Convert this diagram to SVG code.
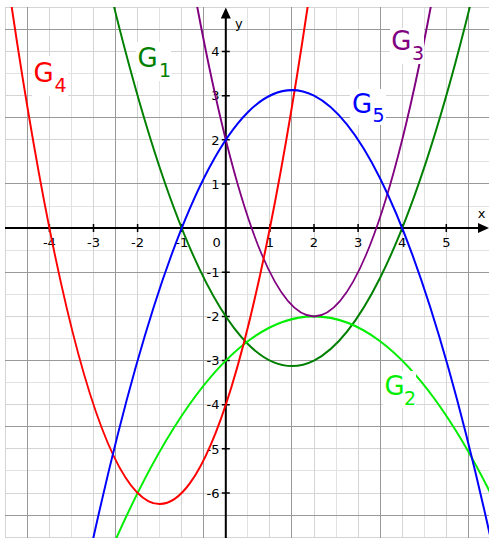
<svg xmlns="http://www.w3.org/2000/svg" width="489" height="538" viewBox="0 0 489 538">
<defs>
<style>
.gl{stroke:#d4d4d4;stroke-width:1;fill:none}
.gh{stroke:#e2e2e2;stroke-width:1;fill:none}
.gd{stroke:#999;stroke-width:1;fill:none}
.ax{stroke:#000;stroke-width:2;fill:none}
.tk{stroke:#000;stroke-width:1.5;fill:none}
.tl{font-family:"DejaVu Sans",Verdana,sans-serif;font-size:13px;fill:#000}
.cv{fill:none;stroke-width:2;vector-effect:non-scaling-stroke}
.lb{font-family:"DejaVu Sans",Verdana,sans-serif;font-size:26px}
.sb{font-size:19px}
.bg{fill:#fff}
</style>
<clipPath id="plot"><rect x="5" y="7" width="484" height="531"/></clipPath>
</defs>
<rect width="489" height="538" fill="#fff"/>
<g id="grid" shape-rendering="crispEdges">
<g class="gh">
<path d="M71.45 7V538M159.65 7V538M247.85 7V538M336.05 7V538M424.25 7V538"/>
<path d="M5 73.6H489M5 161.9H489M5 206H489M5 250.2H489M5 294.3H489M5 338.5H489M5 382.6H489M5 470.9H489"/>
</g>
<g class="gl">
<path d="M5.3 7V538M49.4 7V538M93.5 7V538M137.6 7V538M181.7 7V538M269.9 7V538M314 7V538M358.1 7V538M402.2 7V538M446.3 7V538"/>
<path d="M5 7.35H489M5 51.5H489M5 95.65H489M5 139.8H489M5 316.4H489M5 404.7H489M5 448.85H489M5 493H489M5 537.15H489"/>
</g>
<g class="gd">
<path d="M27.35 7V538M115.55 7V538M203.75 7V538M291.95 7V538M380.15 7V538M468.35 7V538"/>
<path d="M5 29.4H489M5 117.7H489M5 183.95H489M5 272.25H489M5 360.55H489M5 426.75H489M5 515.05H489"/>
</g>
</g>
<g id="axes">
<path class="ax" d="M5 228.1H480M225.8 538V17"/>
<polygon points="489,228.1 478,223.1 478,233.1" fill="#000"/>
<polygon points="225.8,7.5 220.8,18.5 230.8,18.5" fill="#000"/>
<path class="tk" d="M49.4 224.1v8M93.5 224.1v8M137.6 224.1v8M181.7 224.1v8M269.9 224.1v8M314 224.1v8M358.1 224.1v8M402.2 224.1v8M446.3 224.1v8"/>
<path class="tk" d="M221.8 51.5h8M221.8 95.65h8M221.8 139.8h8M221.8 183.95h8M221.8 272.25h8M221.8 316.4h8M221.8 360.55h8M221.8 404.7h8M221.8 448.85h8M221.8 493h8"/>
<g class="tl" text-anchor="middle">
<text x="49.4" y="246.5">-4</text>
<text x="93.5" y="246.5">-3</text>
<text x="137.6" y="246.5">-2</text>
<text x="181.7" y="246.5">-1</text>
<text x="216.7" y="246.5">0</text>
<text x="269.9" y="246.5">1</text>
<text x="314" y="246.5">2</text>
<text x="358.1" y="246.5">3</text>
<text x="402.2" y="246.5">4</text>
<text x="446.3" y="246.5">5</text>
</g>
<g class="tl" text-anchor="end">
<text x="219.5" y="56.2">4</text>
<text x="219.5" y="100.35">3</text>
<text x="219.5" y="144.5">2</text>
<text x="219.5" y="188.65">1</text>
<text x="219.5" y="276.95">-1</text>
<text x="219.5" y="321.1">-2</text>
<text x="219.5" y="365.25">-3</text>
<text x="219.5" y="409.4">-4</text>
<text x="219.5" y="453.55">-5</text>
<text x="219.5" y="497.7">-6</text>
</g>
<text class="tl" x="477.8" y="218">x</text>
<text class="tl" x="235" y="27.5">y</text>
</g>
<g id="curves" clip-path="url(#plot)">
<g transform="matrix(44.1 0 0 -44.15 225.8 228.1)">
<path id="G1" class="cv" stroke="#008000" d="M-5.5 21.375Q0.5 -20.625 6.5 9.375"/>
<path id="G2" class="cv" stroke="#00ee00" d="M-5.5 -16.0625Q0.5 6.4375 6.5 -7.0625"/>
<path id="G3" class="cv" stroke="#800080" d="M-1 7Q2 -11 5 7"/>
<path id="G4" class="cv" stroke="#ff0000" d="M-5.5 9.75Q-1.75 -20.25 2 6"/>
<path id="G5" class="cv" stroke="#0000ff" d="M-5.5 -21.375Q0.5 20.625 6.5 -9.375"/>
</g>
</g>
<g id="label-G4">
<rect class="bg" x="32" y="56" width="36" height="40"/>
<text class="lb" fill="#ff0000"><tspan x="33.6" y="81.7">G</tspan><tspan class="sb" x="54.5" y="91.5">4</tspan></text>
</g>
<g id="label-G1">
<rect class="bg" x="136" y="42" width="35" height="39"/>
<text class="lb" fill="#008000"><tspan x="137.6" y="66.5">G</tspan><tspan class="sb" x="159" y="77">1</tspan></text>
</g>
<g id="label-G3">
<rect class="bg" x="390" y="28" width="34" height="36"/>
<text class="lb" fill="#800080"><tspan x="391.3" y="50">G</tspan><tspan class="sb" x="412" y="60">3</tspan></text>
</g>
<g id="label-G5">
<rect class="bg" x="350" y="89" width="36" height="36"/>
<text class="lb" fill="#0000ff"><tspan x="352" y="112.5">G</tspan><tspan class="sb" x="372.5" y="121.5">5</tspan></text>
</g>
<g id="label-G2">
<rect class="bg" x="383" y="371" width="33" height="37"/>
<text class="lb" fill="#00ee00"><tspan x="384.6" y="395">G</tspan><tspan class="sb" x="404" y="405">2</tspan></text>
</g>
</svg>
